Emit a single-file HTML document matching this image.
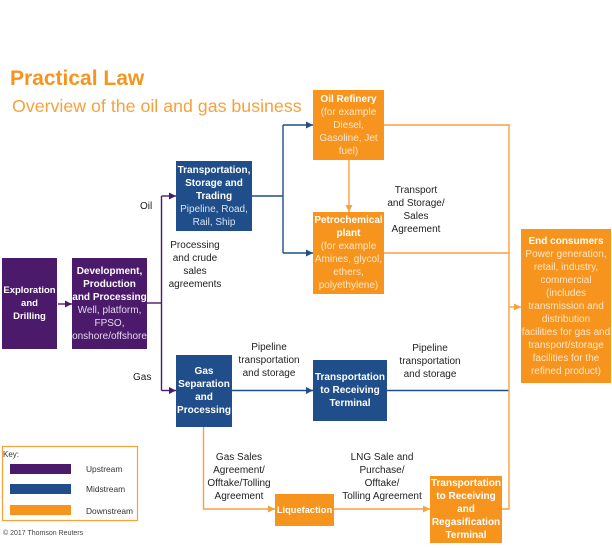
<!DOCTYPE html>
<html><head><meta charset="utf-8"><style>
*{margin:0;padding:0;box-sizing:border-box}
html,body{width:612px;height:548px;background:#fff;overflow:hidden}
body{position:relative;font-family:"Liberation Sans",sans-serif}
.b{position:absolute;display:flex;flex-direction:column;justify-content:center;align-items:center;text-align:center;font-size:10px;line-height:13px;white-space:nowrap}
.b b{color:#fff;font-weight:bold}
.p{background:#4b1a6b;color:#e3d8ec}
.m{background:#1f4e8a;color:#d6e2f2}
.o{background:#f7941d;color:#fde6c8}
.t{position:absolute;text-align:center;font-size:10px;line-height:13px;color:#222;white-space:nowrap}
svg{position:absolute;left:0;top:0}
</style></head><body>
<div style="position:absolute;left:10px;top:66px;font-size:21px;font-weight:bold;color:#f7941d;line-height:26px">Practical Law</div>
<div style="position:absolute;left:12px;top:95px;font-size:17.8px;color:#f7a13a;line-height:22px">Overview of the oil and gas business</div>

<svg width="612" height="548">
<defs>
<marker id="ap" markerWidth="8" markerHeight="8" refX="7" refY="4" orient="auto" markerUnits="userSpaceOnUse"><path d="M0,0.5 L7,4 L0,7.5z" fill="#4b1a6b"/></marker>
<marker id="am" markerWidth="8" markerHeight="8" refX="7" refY="4" orient="auto" markerUnits="userSpaceOnUse"><path d="M0,0.5 L7,4 L0,7.5z" fill="#1f4e8a"/></marker>
<marker id="ao" markerWidth="8" markerHeight="8" refX="7" refY="4" orient="auto" markerUnits="userSpaceOnUse"><path d="M0,0.5 L7,4 L0,7.5z" fill="#f7a13a"/></marker>
</defs>
<g fill="none" stroke-width="1.4">
<path d="M58,304 H72" stroke="#4b1a6b" marker-end="url(#ap)"/>
<path d="M147,303 H161.5" stroke="#4b1a6b"/>
<path d="M161.5,196 V390.5" stroke="#4b1a6b"/>
<path d="M161.5,196 H176" stroke="#4b1a6b" marker-end="url(#ap)"/>
<path d="M161.5,390.5 H176" stroke="#4b1a6b" marker-end="url(#ap)"/>
<path d="M252,196 H283 M283,125 V253" stroke="#1f4e8a"/>
<path d="M283,125 H313" stroke="#1f4e8a" marker-end="url(#am)"/>
<path d="M283,253 H313" stroke="#1f4e8a" marker-end="url(#am)"/>
<path d="M232,390.5 H313" stroke="#1f4e8a" marker-end="url(#am)"/>
<path d="M387,390.5 H509" stroke="#1f4e8a"/>
<path d="M349,160 V212" stroke="#f7a13a" marker-end="url(#ao)"/>
<path d="M384,125 H509 V509 H502 M384,253 H509" stroke="#f7a13a"/>
<path d="M509,307 H521" stroke="#f7a13a" marker-end="url(#ao)"/>
<path d="M203.5,427 V509 H275" stroke="#f7a13a" marker-end="url(#ao)"/>
<path d="M334,509 H430" stroke="#f7a13a" marker-end="url(#ao)"/>
<rect x="2.5" y="446.5" width="135" height="74" stroke="#f7a13a" stroke-width="1.2"/>
</g>
<rect x="10" y="464" width="61" height="10" fill="#4b1a6b"/>
<rect x="10" y="484" width="61" height="10" fill="#1f4e8a"/>
<rect x="10" y="505" width="61" height="10" fill="#f7941d"/>
</svg>

<div class="b p" style="left:2px;top:258px;width:55px;height:91px;font-size:9.5px"><b>Exploration</b><b>and</b><b>Drilling</b></div>
<div class="b p" style="left:72px;top:258px;width:75px;height:91px"><b>Development,</b><b>Production</b><b>and Processing</b><span>Well, platform,</span><span>FPSO,</span><span>onshore/offshore</span></div>
<div class="b m" style="left:176px;top:161px;width:76px;height:70px"><b>Transportation,</b><b>Storage and</b><b>Trading</b><span>Pipeline, Road,</span><span>Rail, Ship</span></div>
<div class="b m" style="left:176px;top:355px;width:56px;height:72px"><b>Gas</b><b>Separation</b><b>and</b><b>Processing</b></div>
<div class="b m" style="left:313px;top:360px;width:74px;height:61px"><b>Transportation</b><b>to Receiving</b><b>Terminal</b></div>
<div class="b o" style="left:313px;top:90px;width:71px;height:70px"><b>Oil Refinery</b><span>(for example</span><span>Diesel,</span><span>Gasoline, Jet</span><span>fuel)</span></div>
<div class="b o" style="left:313px;top:212px;width:71px;height:82px"><b>Petrochemical</b><b>plant</b><span>(for example</span><span>Amines, glycol,</span><span>ethers,</span><span>polyethylene)</span></div>
<div class="b o" style="left:521px;top:229px;width:90px;height:154px"><b>End consumers</b><span>Power generation,</span><span>retail, industry,</span><span>commercial</span><span>(includes</span><span>transmission and</span><span>distribution</span><span>facilities for gas and</span><span>transport/storage</span><span>facilities for the</span><span>refined product)</span></div>
<div class="b o" style="left:275px;top:494px;width:59px;height:32px;font-size:9.3px"><b>Liquefaction</b></div>
<div class="b o" style="left:430px;top:476px;width:72px;height:67px"><b>Transportation</b><b>to Receiving</b><b>and</b><b>Regasification</b><b>Terminal</b></div>

<div class="t" style="left:140px;top:200px">Oil</div>
<div class="t" style="left:133px;top:371px">Gas</div>
<div class="t" style="left:165px;top:239px;width:60px">Processing<br>and crude<br>sales<br>agreements</div>
<div class="t" style="left:376px;top:184px;width:80px">Transport<br>and Storage/<br>Sales<br>Agreement</div>
<div class="t" style="left:229px;top:341px;width:80px">Pipeline<br>transportation<br>and storage</div>
<div class="t" style="left:390px;top:342px;width:80px">Pipeline<br>transportation<br>and storage</div>
<div class="t" style="left:194px;top:451px;width:90px">Gas Sales<br>Agreement/<br>Offtake/Tolling<br>Agreement</div>
<div class="t" style="left:332px;top:451px;width:100px">LNG Sale and<br>Purchase/<br>Offtake/<br>Tolling Agreement</div>

<div style="position:absolute;left:3px;top:450px;font-size:8px;color:#333">Key:</div>
<div style="position:absolute;left:86px;top:464px;font-size:8.4px;color:#333;line-height:10px">Upstream</div>
<div style="position:absolute;left:86px;top:484px;font-size:8.4px;color:#333;line-height:10px">Midstream</div>
<div style="position:absolute;left:86px;top:506px;font-size:8.4px;color:#333;line-height:10px">Downstream</div>
<div style="position:absolute;left:3px;top:529px;font-size:7px;color:#444;line-height:10px">© 2017 Thomson Reuters</div>
</body></html>
